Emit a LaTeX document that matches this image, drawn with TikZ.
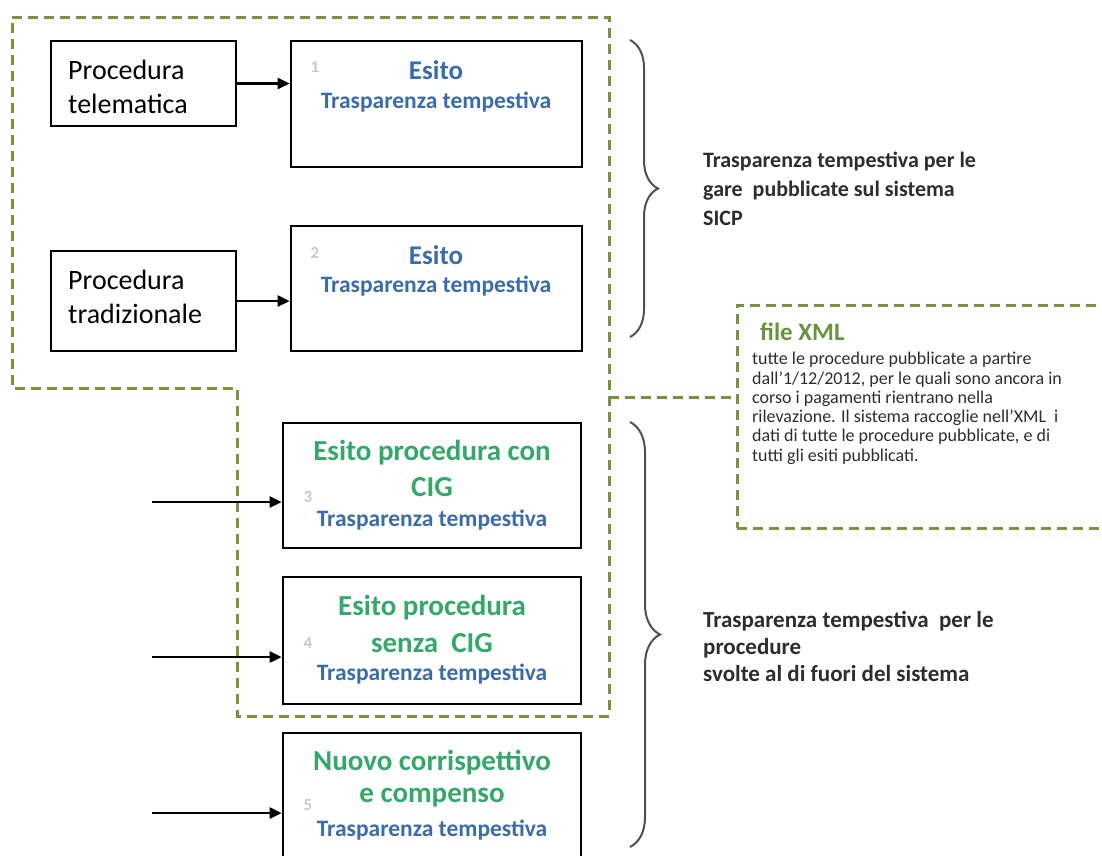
\documentclass[tikz,border=0pt]{standalone}
\usepackage{fontspec}
\setmainfont{Carlito}
\usetikzlibrary{arrows.meta,decorations.pathreplacing}
\definecolor{dashgreen}{RGB}{118,148,62}
\definecolor{esblue}{RGB}{58,108,172}
\definecolor{esgreen}{RGB}{52,168,104}
\definecolor{xmlgreen}{RGB}{106,146,62}
\definecolor{txtdark}{RGB}{45,45,45}
\definecolor{bracegray}{RGB}{80,80,80}
\definecolor{numgray}{RGB}{200,200,200}
\tikzset{
  box/.style={draw=black, line width=2.6pt, fill=white, inner sep=0pt, rectangle},
  dashgrp/.style={draw=dashgreen, line width=3pt, dash pattern=on 10pt off 6pt},
  arr/.style={line width=2.5pt, -{Triangle[length=12pt,width=11pt]}},
  blk/.style={font=\fontsize{28}{34}\selectfont, text=black, inner sep=0pt},
  esito/.style={font=\bfseries\fontsize{27}{30}\selectfont, text=esblue, inner sep=0pt},
  trasp/.style={font=\bfseries\fontsize{23.5}{28}\selectfont, text=esblue, inner sep=0pt},
  gtitle/.style={font=\bfseries\fontsize{29}{32}\selectfont, text=esgreen, inner sep=0pt},
  num/.style={font=\bfseries\fontsize{17}{20}\selectfont, text=numgray, inner sep=0pt},
  side/.style={font=\bfseries\fontsize{22}{29}\selectfont, text=txtdark, inner sep=0pt, align=left, anchor=west},
  bracestyle/.style={draw=bracegray, line width=2pt, decorate},
}
\begin{document}
\begin{tikzpicture}[x=1pt,y=-1pt]
\useasboundingbox (0,0) rectangle (1102,855);
\clip (0,0) rectangle (1102,855);
\fill[white] (0,0) rectangle (1102,855);

% dashed groups
\draw[dashgrp] (12,17) -- (609,17) -- (609,716) -- (237,716) -- (237,388) -- (12,388) -- cycle;
\node[dashgrp, rectangle, minimum width=380pt, minimum height=223pt, inner sep=0pt] (xml) at (927,416.5) {};
\coordinate (dc) at (609,397);
\draw[dashgrp] (dc) -- (xml.west |- dc);

% boxes
\node[box, minimum width=185pt, minimum height=85pt] (tel) at (143.5,83.5) {};
\node[box, minimum width=291pt, minimum height=126pt] (b1) at (436.5,104) {};
\node[box, minimum width=185pt, minimum height=100pt] (trad) at (143.5,301) {};
\node[box, minimum width=291pt, minimum height=125pt] (b2) at (436.5,288.5) {};
\node[box, minimum width=298pt, minimum height=125pt] (b3) at (432,485.5) {};
\node[box, minimum width=298pt, minimum height=127pt] (b4) at (432,640.5) {};
\node[box, minimum width=298pt, minimum height=160pt] (b5) at (432,813) {};

% box texts
\node[blk, align=left, anchor=west] (teltx) at (68,87) {Procedura\\telematica};
\node[blk, align=left, anchor=west] (tradtx) at (68,297) {Procedura\\tradizionale};

\node[num] (n1) at (315,67) {1};
\node[esito] (e1) at (436,70) {Esito};
\node[trasp] (t1) at (436,102) {Trasparenza tempestiva};

\node[num] (n2) at (315,253) {2};
\node[esito] (e2) at (436,255) {Esito};
\node[trasp] (t2) at (436,286) {Trasparenza tempestiva};

\node[num] (n3) at (308,497) {3};
\node[gtitle] (g3a) at (432,453) {Esito procedura con};
\node[gtitle] (g3b) at (432,487) {CIG};
\node[trasp] (t3) at (432,520) {Trasparenza tempestiva};

\node[num] (n4) at (308,643) {4};
\node[gtitle] (g4a) at (432,608) {Esito procedura};
\node[gtitle] (g4b) at (432,643) {senza\ \ CIG};
\node[trasp] (t4) at (432,674) {Trasparenza tempestiva};

\node[num] (n5) at (308,805) {5};
\node[gtitle] (g5a) at (432,763) {Nuovo corrispettivo};
\node[gtitle] (g5b) at (432,798) {e compenso};
\node[trasp] (t5) at (432,830) {Trasparenza tempestiva};

% arrows
\draw[arr] (tel.east) -- (tel.east -| b1.west);
\draw[arr] (trad.east) -- (trad.east -| b2.west);
\coordinate (s3) at (152,502);
\coordinate (s4) at (152,657);
\coordinate (s5) at (152,813);
\draw[arr] (s3) -- (s3 -| b3.west);
\draw[arr] (s4) -- (s4 -| b4.west);
\draw[arr] (s5) -- (s5 -| b5.west);

% braces
\coordinate (br1a) at (630,40);
\coordinate (br1b) at (630,337);
\coordinate (br2a) at (630,422);
\coordinate (br2b) at (630,847);
\draw[bracestyle, decoration={brace, amplitude=28pt}] (br1a) -- (br1b);
\draw[bracestyle, decoration={brace, amplitude=30pt}] (br2a) -- (br2b);

% side texts
\node[side] (side1) at (703,189) {Trasparenza tempestiva per le\\gare\ \ pubblicate sul sistema\\SICP};
\node[side, font=\bfseries\fontsize{23}{27}\selectfont] (side2) at (703,646) {Trasparenza tempestiva\ \ per le\\procedure\\svolte al di fuori del sistema};

% xml texts
\node[font=\bfseries\fontsize{25}{28}\selectfont, text=xmlgreen, anchor=west, inner sep=0pt] (xmlt) at (760,332) {file XML};
\node[font=\fontsize{18}{19.3}\selectfont, text=txtdark, anchor=north west, align=left, inner sep=0pt] (xmlb) at (752,352)
{tutte le procedure pubblicate a partire\\dall'1/12/2012, per le quali sono ancora in\\corso i pagamenti rientrano nella\\rilevazione. Il sistema raccoglie nell'XML\ \ i\\dati di tutte le procedure pubblicate, e di\\tutti gli esiti pubblicati.};
\end{tikzpicture}
\end{document}
